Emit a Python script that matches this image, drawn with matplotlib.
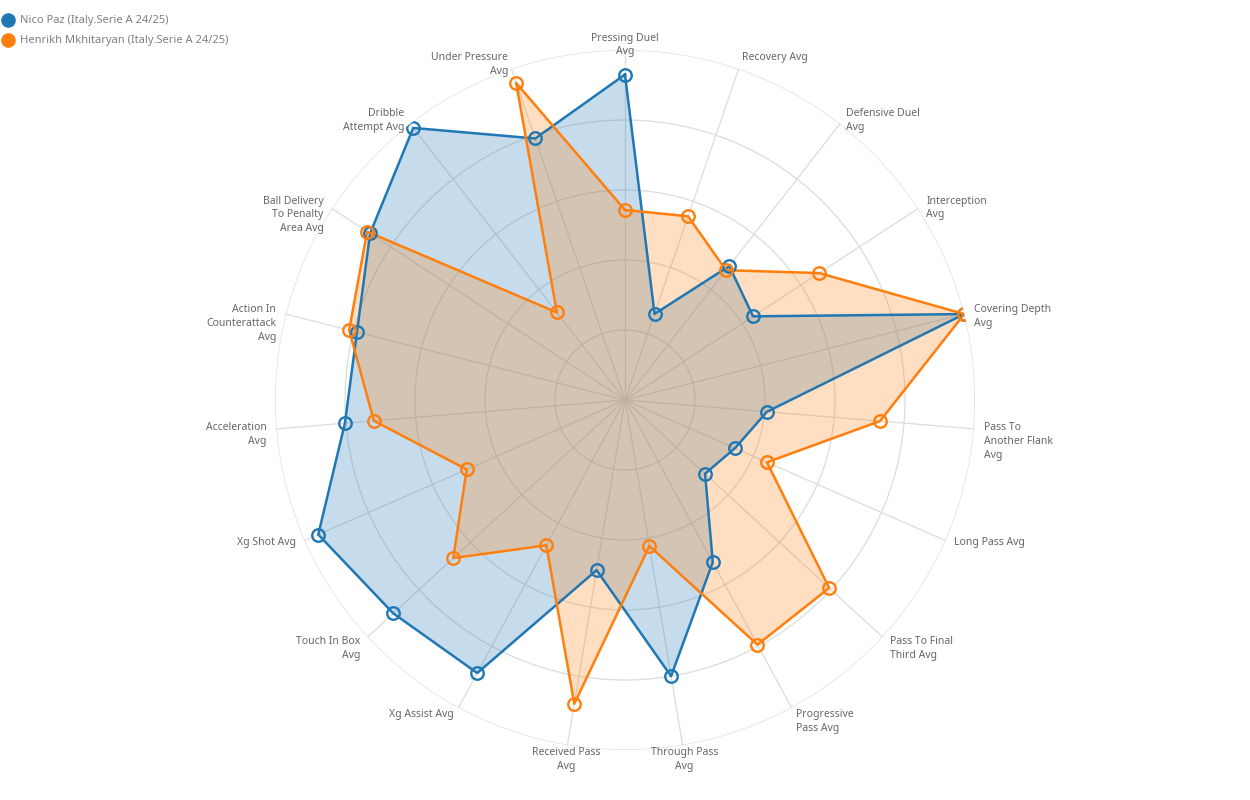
import numpy as np
import matplotlib.pyplot as plt
from matplotlib.lines import Line2D
from matplotlib.transforms import offset_copy

plt.rcParams['font.family'] = ['Noto Sans', 'DejaVu Sans']

# axes, clockwise from the top
categories = [
    'Pressing Duel\nAvg', 'Recovery Avg', 'Defensive Duel\nAvg', 'Interception\nAvg',
    'Covering Depth\nAvg', 'Pass To\nAnother Flank\nAvg', 'Long Pass Avg',
    'Pass To Final\nThird Avg', 'Progressive\nPass Avg', 'Through Pass\nAvg',
    'Received Pass\nAvg', 'Xg Assist Avg', 'Touch In Box\nAvg', 'Xg Shot Avg',
    'Acceleration\nAvg', 'Action In\nCounterattack\nAvg', 'Ball Delivery\nTo Penalty\nArea Avg',
    'Dribble\nAttempt Avg', 'Under Pressure\nAvg',
]

# normalised values (0-1)
nico_paz = [0.93, 0.26, 0.485, 0.437, 1.0, 0.407, 0.343, 0.311, 0.527, 0.80,
            0.493, 0.887, 0.90, 0.957, 0.803, 0.79, 0.87, 0.985, 0.79]
mkhitaryan = [0.543, 0.555, 0.47, 0.663, 1.0, 0.731, 0.443, 0.793, 0.795, 0.423,
              0.88, 0.472, 0.667, 0.494, 0.72, 0.813, 0.88, 0.317, 0.958]

players = ['Nico Paz (Italy.Serie A 24/25)', 'Henrikh Mkhitaryan (Italy.Serie A 24/25)']
colors = ['#1f77b4', '#ff7f0e']


def main():
    n = len(categories)
    angles = np.arange(n) * 2 * np.pi / n

    fig = plt.figure(figsize=(12.5, 8), dpi=100)
    ax = fig.add_axes([0.22, 0.0625, 0.56, 0.875], projection='polar')
    ax.set_theta_zero_location('N')
    ax.set_theta_direction(-1)
    ax.set_ylim(0, 1)
    ax.set_axisbelow(True)

    ax.set_rgrids([0.2, 0.4, 0.6, 0.8, 1.0], labels=[])
    ax.set_thetagrids(np.degrees(angles), labels=[])
    ax.grid(color='#dcdcdc', linewidth=0.9)
    ax.spines['polar'].set_visible(False)

    for vals, col in zip([nico_paz, mkhitaryan], colors):
        a = np.append(angles, angles[0])
        v = np.append(vals, vals[0])
        ax.fill(a, v, color=col, alpha=0.25, linewidth=0, zorder=2)
        ax.plot(a, v, color=col, linewidth=1.8, zorder=3)
        ax.plot(angles, vals, linestyle='none', marker='o', markersize=9,
                markerfacecolor='none', markeredgecolor=col, markeredgewidth=1.7, zorder=4)

    # axis labels: first line sits just above the anchor point
    trans = offset_copy(ax.transData, fig=fig, y=5.5, units='points')
    for ang, lab in zip(angles, categories):
        s = np.sin(ang)
        if s > 0.2:
            ha = 'left'
        elif s < -0.2:
            ha = 'right'
        else:
            ha = 'center'
        ax.text(ang, 1.028, lab, ha=ha, va='top', fontsize=7.5, color='#666666',
                linespacing=1.35, transform=trans)

    # legend, top-left corner
    for i, (name, col) in enumerate(zip(players, colors)):
        y = 1 - (20 + 20 * i) / 800
        fig.add_artist(Line2D([8 / 1250], [y], marker='o', markersize=9.5, color=col,
                              linestyle='none', transform=fig.transFigure))
        fig.text(20 / 1250, y, name, ha='left', va='center', fontsize=8, color='#808080')

    fig.savefig('out.png', dpi=100)


if __name__ == "__main__":
    main()
